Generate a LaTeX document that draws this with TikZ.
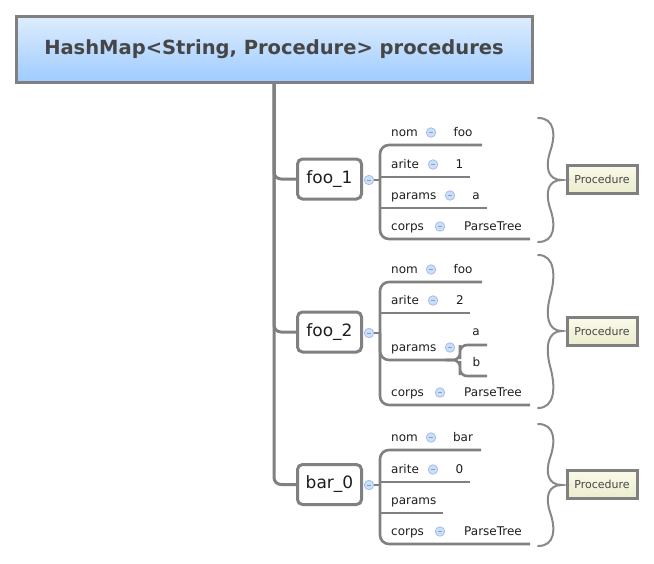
\documentclass[tikz,border=0pt]{standalone}
\usepackage{fontspec}
\setmainfont{DejaVu Sans}
\definecolor{lgray}{RGB}{128,128,128}
\definecolor{bgray}{RGB}{136,136,136}
\definecolor{rtop}{RGB}{222,237,253}
\definecolor{rbot}{RGB}{158,203,255}
\definecolor{ptop}{RGB}{250,250,234}
\definecolor{pbot}{RGB}{236,236,206}
\definecolor{tgray}{RGB}{70,70,70}
\definecolor{tdark}{RGB}{30,30,30}
\definecolor{cfill}{RGB}{205,222,247}
\definecolor{cedge}{RGB}{165,190,234}
\definecolor{cminus}{RGB}{130,160,215}
\tikzset{
  conn/.style={draw=lgray, line width=2.6pt},
  trunk/.style={draw=lgray, line width=3pt, rounded corners=7pt},
  rootbox/.style={draw=lgray, line width=3pt, minimum width=516pt, minimum height=66pt,
    top color=rtop, bottom color=rbot, text=tgray, inner sep=0pt,
    font=\bfseries\fontsize{19.5}{23}\selectfont},
  keybox/.style={draw=lgray, line width=3pt, rounded corners=5pt, minimum width=64pt,
    minimum height=40pt, fill=white, text=tdark, inner sep=0pt,
    font=\fontsize{17}{20}\selectfont},
  tog/.style={circle, draw=cedge, fill=cfill, minimum size=9.5pt, inner sep=0pt, line width=0.8pt},
  minus/.style={draw=cminus, line width=0.8pt},
  lab/.style={anchor=base west, inner sep=0pt, text=tdark, font=\fontsize{12}{14}\selectfont},
  val/.style={anchor=base, inner sep=0pt, text=tdark, font=\fontsize{12}{14}\selectfont},
  procbox/.style={draw=lgray, line width=3pt, minimum width=70pt, minimum height=28pt,
    top color=ptop, bottom color=pbot, text=tgray, inner sep=0pt,
    font=\fontsize{11}{13}\selectfont},
  bracestroke/.style={draw=bgray, line width=2pt, line cap=round}
}
\newcommand\mytog[3]{%
  \node[tog] (#1) at (#2,#3) {};
  \draw[minus] ([xshift=-2.3pt]#1.center) -- ([xshift=2.3pt]#1.center);
}
\newcommand\mykv[7]{%
  \node[lab] (#1l) at (391,{#2-8.5}) {#3};
  \mytog{#1c}{#4}{{#2-12.5}}
  \node[val] (#1v) at (#6,{#2-8.5}) {#5};
  \coordinate (#1e) at (#7,#2);
}
\begin{document}
\begin{tikzpicture}[x=1pt,y=-1pt]
\useasboundingbox (0,0) rectangle (654,563);

% root
\node[rootbox] (root) at (274,49) {HashMap<String, Procedure> procedures};

% keys
\node[keybox] (foo1) at (329.5,179) {foo\_1};
\node[keybox] (foo2) at (329.5,332) {foo\_2};
\node[keybox] (bar0) at (329.5,484.5) {bar\_0};

\draw[trunk] (root.south) |- (foo1.west);
\draw[trunk] (root.south) |- (foo2.west);
\draw[trunk] (root.south) |- (bar0.west);

\mytog{t1}{369}{180}
\mytog{t2}{369}{333}
\mytog{t3}{369}{485}

% ---------- group 1
\coordinate (h1) at (380,180);
\mykv{a1}{145}{nom}{431}{foo}{463}{482}
\mykv{b1}{177}{arite}{433}{1}{459.5}{470}
\mykv{c1}{208}{params}{450}{a}{476}{487}
\mykv{d1}{239}{corps}{440}{ParseTree}{493}{530}
\draw[conn] (t1.east) -- (h1);
\draw[conn, rounded corners=9pt] (a1e) -| (h1) |- (d1e);
\draw[conn] (h1 |- b1e) -- (b1e);
\draw[conn] (h1 |- c1e) -- (c1e);

% ---------- group 2
\coordinate (h2) at (380,333);
\mykv{a2}{282}{nom}{431}{foo}{463}{482}
\mykv{b2}{313}{arite}{433}{2}{460}{470}
\node[lab] (c2l) at (391,351.5) {params};
\mytog{c2c}{450}{347.5}
\coordinate (c2e) at (446,360);
\node[val] (sa2) at (476,335.5) {a};
\coordinate (sa2e) at (487,345);
\node[val] (sb2) at (476.5,366.5) {b};
\coordinate (sb2e) at (487,376);
\mykv{d2}{405}{corps}{440}{ParseTree}{493}{530}
\draw[conn] (t2.east) -- (h2);
\draw[conn, rounded corners=9pt] (a2e) -| (h2) |- (d2e);
\draw[conn] (h2 |- b2e) -- (b2e);
\draw[conn, rounded corners=9pt] (h2) |- (c2e);
\draw[conn, rounded corners=7pt] (c2e) -| (460,352) |- (sa2e);
\draw[conn, rounded corners=7pt] (c2e) -| (460,368) |- (sb2e);

% ---------- group 3
\coordinate (h3) at (380,485);
\mykv{a3}{450}{nom}{431}{bar}{463}{481}
\mykv{b3}{482}{arite}{433}{0}{459.5}{470}
\node[lab] (c3l) at (391,504.5) {params};
\coordinate (c3e) at (443,513);
\mykv{d3}{544}{corps}{440}{ParseTree}{493}{530}
\draw[conn] (t3.east) -- (h3);
\draw[conn, rounded corners=9pt] (a3e) -| (h3) |- (d3e);
\draw[conn] (h3 |- b3e) -- (b3e);
\draw[conn] (h3 |- c3e) -- (c3e);

% ---------- procedure boxes
\node[procbox] (p1) at (602,179) {Procedure};
\node[procbox] (p2) at (602,331) {Procedure};
\node[procbox] (p3) at (602,484) {Procedure};

% ---------- braces
\draw[bracestroke] (538,118) .. controls (555,118) and (556,135) .. (550,152)
  .. controls (545,168) and (548,180) .. (562,180)
  .. controls (548,180) and (545,192) .. (550,208)
  .. controls (556,225) and (555,242) .. (538,242);
\draw[bracestroke] (538,255) .. controls (555,255) and (556,276) .. (550,297)
  .. controls (545,316) and (548,331) .. (562,331)
  .. controls (548,331) and (545,346) .. (550,366)
  .. controls (556,387) and (555,408) .. (538,408);
\draw[bracestroke] (538,424) .. controls (555,424) and (556,441) .. (550,458)
  .. controls (545,473) and (548,485) .. (562,485)
  .. controls (548,485) and (545,497) .. (550,512)
  .. controls (556,529) and (555,546) .. (538,546);
\end{tikzpicture}
\end{document}
